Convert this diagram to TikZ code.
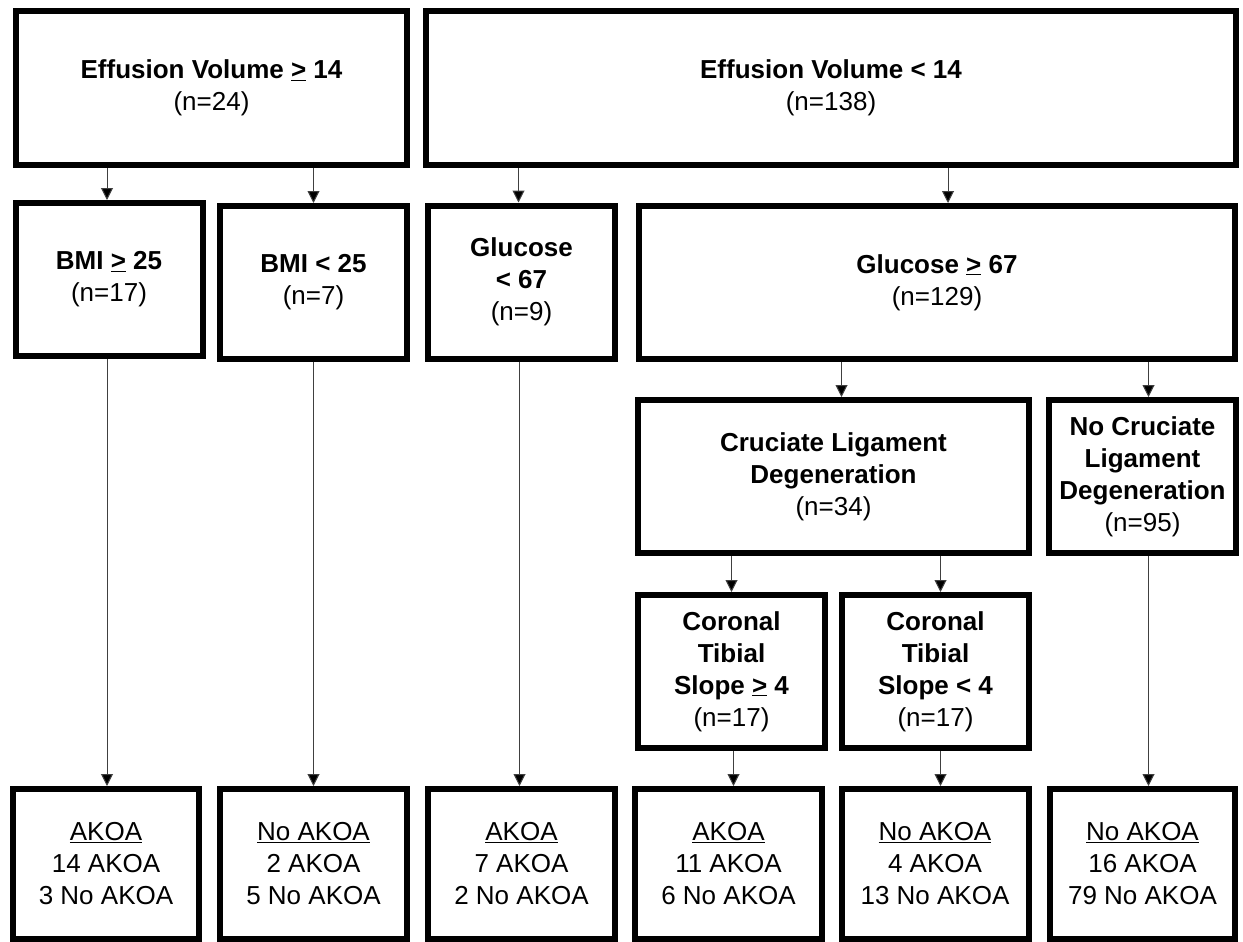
\documentclass[tikz,border=0pt]{standalone}
\usepackage{fontspec}
\setmainfont{Liberation Sans}
\usetikzlibrary{arrows.meta}

\begin{document}
\begin{tikzpicture}[x=1pt, y=-1pt,
    box/.style={draw, line width=6pt, align=center, inner sep=0pt,
        minimum width=187pt, minimum height=153pt,
        font=\fontsize{26}{32}\selectfont},
    arr/.style={draw=black!75, line width=1pt, -{Triangle[length=12pt,width=12pt,fill=black]}}]
    \useasboundingbox (0,0) rectangle (1243,942);

    % Nodes
    \node[box, minimum width=391pt, minimum height=154pt] (vol-high) at (211.5,88) {\textbf{Effusion Volume \underline{>} 14}\\(n=24)};
    \node[box, minimum width=810pt, minimum height=154pt] (vol-low) at (831,88) {\textbf{Effusion Volume < 14}\\(n=138)};

    \node[box] (bmi-high) at (109,279.5) {\textbf{BMI \underline{>} 25}\\(n=17)};
    \node[box] (bmi-low) at (313.5,282.5) {\textbf{BMI < 25}\\(n=7)};
    \node[box] (gluc-low) at (521.5,282) {\textbf{Glucose}\\\textbf{< 67}\\(n=9)};
    \node[box, minimum width=596pt] (gluc-high) at (937,282.5) {\textbf{Glucose \underline{>} 67}\\(n=129)};

    \node[box, minimum width=391pt] (cruc) at (833.5,476.5) {\textbf{Cruciate Ligament}\\\textbf{Degeneration}\\(n=34)};
    \node[box] (no-cruc) at (1142.5,476.5) {\textbf{No Cruciate}\\\textbf{Ligament}\\\textbf{Degeneration}\\(n=95)};

    \node[box] (slope-high) at (731.5,671.5) {\textbf{Coronal}\\\textbf{Tibial}\\\textbf{Slope \underline{>} 4}\\(n=17)};
    \node[box] (slope-low) at (935.5,671.5) {\textbf{Coronal}\\\textbf{Tibial}\\\textbf{Slope < 4}\\(n=17)};

    \node[box, minimum width=186pt, minimum height=150pt] (out-1) at (106,864) {\underline{AKOA}\\14 AKOA\\3 No AKOA};
    \node[box, minimum height=150pt] (out-2) at (313.5,864) {\underline{No AKOA}\\2 AKOA\\5 No AKOA};
    \node[box, minimum height=150pt] (out-3) at (521.5,864) {\underline{AKOA}\\7 AKOA\\2 No AKOA};
    \node[box, minimum height=150pt] (out-4) at (728.5,864) {\underline{AKOA}\\11 AKOA\\6 No AKOA};
    \node[box, minimum height=150pt] (out-5) at (935,864) {\underline{No AKOA}\\4 AKOA\\13 No AKOA};
    \node[box, minimum width=185pt, minimum height=150pt] (out-6) at (1142.5,864) {\underline{No AKOA}\\16 AKOA\\79 No AKOA};

    % Lines
    \draw[arr] ([xshift=-2pt]vol-high.south -| bmi-high) -- ([xshift=-2pt]bmi-high.north);
    \draw[arr] (vol-high.south -| bmi-low) -- (bmi-low.north);
    \draw[arr] ([xshift=-3pt]vol-low.south -| gluc-low) -- ([xshift=-3pt]gluc-low.north);
    \draw[arr] ([xshift=11pt]vol-low.south -| gluc-high) -- ([xshift=11pt]gluc-high.north);

    \draw[arr] ([xshift=8pt]gluc-high.south -| cruc) -- ([xshift=8pt]cruc.north);
    \draw[arr] ([xshift=6pt]gluc-high.south -| no-cruc) -- ([xshift=6pt]no-cruc.north);

    \draw[arr] (cruc.south -| slope-high) -- (slope-high.north);
    \draw[arr] ([xshift=5pt]cruc.south -| slope-low) -- ([xshift=5pt]slope-low.north);

    \draw[arr] ([xshift=-2pt]bmi-high.south) -- ([xshift=-2pt]bmi-high.south |- out-1.north);
    \draw[arr] (bmi-low.south) -- (bmi-low.south |- out-2.north);
    \draw[arr] ([xshift=-2pt]gluc-low.south) -- ([xshift=-2pt]gluc-low.south |- out-3.north);
    \draw[arr] ([xshift=2pt]slope-high.south) -- ([xshift=2pt]slope-high.south |- out-4.north);
    \draw[arr] ([xshift=5pt]slope-low.south) -- ([xshift=5pt]slope-low.south |- out-5.north);
    \draw[arr] ([xshift=6pt]no-cruc.south) -- ([xshift=6pt]no-cruc.south |- out-6.north);

\end{tikzpicture}
\end{document}
